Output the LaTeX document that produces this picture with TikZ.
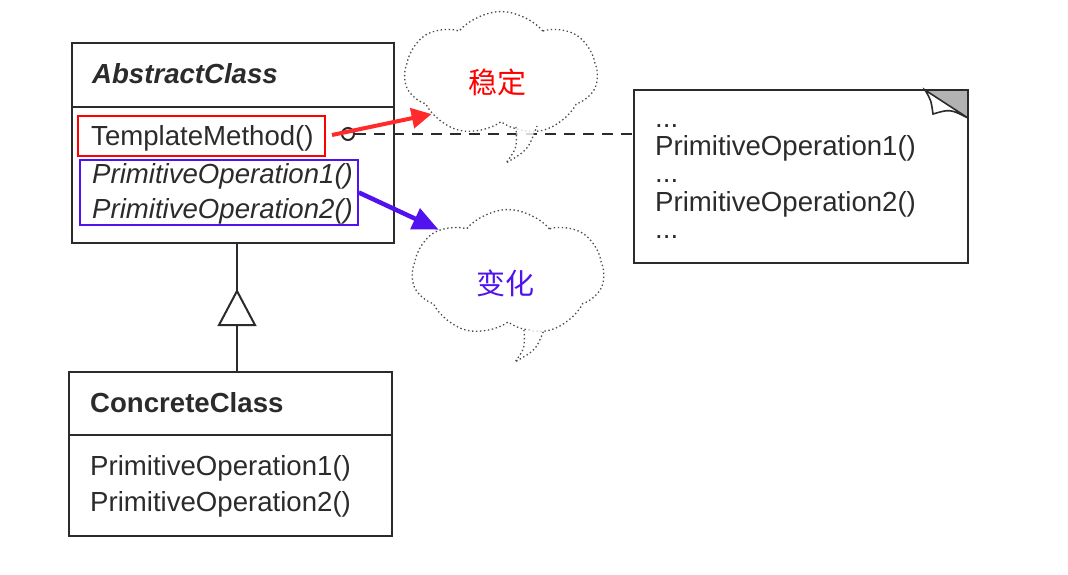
\documentclass[tikz,border=0pt]{standalone}
\usepackage{fontspec}
\setmainfont{Liberation Sans}
\newfontfamily\cjk{Noto Sans CJK SC}
\usetikzlibrary{arrows.meta,shapes.symbols}

\definecolor{ink}{HTML}{2B2B2B}
\definecolor{stablered}{HTML}{FF2A2A}
\definecolor{changeblue}{HTML}{5012EE}

\tikzset{
  umlbox/.style={draw=ink, line width=2pt, inner sep=0pt},
  op/.style={anchor=base west, inner sep=0pt, text=ink,
    font=\fontsize{27.6}{33}\selectfont},
  thoughtline/.style={draw=ink!85, line width=1.3pt, dash pattern=on 1.4pt off 2.6pt},
  thought/.style={cloud, cloud puffs=7, cloud puff arc=100, cloud ignores aspect, thoughtline,
    fill=white, fill opacity=0.8, inner sep=0pt},
  cjklabel/.style={font=\cjk\fontsize{29}{33}\selectfont, inner sep=0pt}
}

\begin{document}
\begin{tikzpicture}[x=1pt, y=-1pt]
    \useasboundingbox (0,0) rectangle (1068,574);

    % AbstractClass
    \node[umlbox, minimum width=322, minimum height=200] (abs) at (233,143) {};
    \draw[ink, line width=2pt] (72,107) -- (394,107);
    \node[op, font=\fontsize{27.6}{33}\selectfont\bfseries\itshape] (absname) at (92,83) {AbstractClass};
    \node[op] (tmpl) at (91,145) {TemplateMethod()};
    \node[op, font=\fontsize{27.6}{33}\selectfont\itshape] (prim1) at (92,183) {PrimitiveOperation1()};
    \node[op, font=\fontsize{27.6}{33}\selectfont\itshape] (prim2) at (92,218) {PrimitiveOperation2()};
    \draw[red, line width=1.6pt] (78,116) rectangle (325,156);
    \node[draw=changeblue, line width=1.6pt, minimum width=278, minimum height=65,
      inner sep=0pt] (varbox) at (219,192.5) {};
    \coordinate (redbox) at (332,135);

    % ConcreteClass
    \node[umlbox, minimum width=323, minimum height=164] (conc) at (230.5,454) {};
    \draw[ink, line width=2pt] (69,435) -- (392,435);
    \node[op, font=\fontsize{27.6}{33}\selectfont\bfseries] (concname) at (90,412) {ConcreteClass};
    \node[op] (cop1) at (90,475) {PrimitiveOperation1()};
    \node[op] (cop2) at (90,511) {PrimitiveOperation2()};

    % inheritance
    \coordinate (apex) at (237,291);
    \coordinate (tribase) at (237,325);
    \draw[ink, line width=2pt] (apex |- abs.south) -- (apex);
    \draw[ink, line width=2pt, line join=miter] (apex) -- ++(18,34) -- ++(-36,0) -- cycle;
    \draw[ink, line width=2pt] (tribase) -- (apex |- conc.north);

    % note
    \fill[gray!60] (925,90) -- (968,90) -- (968,118) -- cycle;
    \filldraw[fill=white, draw=ink, line width=1.6pt] (925,90)
        .. controls (931,100) .. (933,114) .. controls (950,109) .. (968,118) -- cycle;
    \node[umlbox, minimum width=334, minimum height=173] (note) at (801,176.5) {};
    \node[op] (dots1) at (655,127) {...};
    \node[op] (nop1) at (655,155) {PrimitiveOperation1()};
    \node[op] (dots2) at (655,182) {...};
    \node[op] (nop2) at (655,211) {PrimitiveOperation2()};
    \node[op] (dots3) at (655,238) {...};

    \node[circle, draw=ink, line width=2pt, minimum size=12, inner sep=0pt] (knob) at (348,134) {};
    \draw[ink, line width=2.6pt, dash pattern=on 11pt off 8pt] (knob.east) -- (knob.east -| note.west);

    % clouds
    \node[thought, minimum width=193, minimum height=125] (stable) at (501,74) {};
    \fill[white, fill opacity=0.8] (516,127) .. controls (517,148) .. (506,163)
        .. controls (528,150) .. (537,126) -- cycle;
    \draw[thoughtline] (516,127) .. controls (517,148) .. (506,163)
        .. controls (528,150) .. (537,126);
    \node[cjklabel, text=red] (stabletext) at (497,82) {稳定};

    \node[thought, minimum width=192, minimum height=127] (change) at (508,273) {};
    \fill[white, fill opacity=0.8] (524,330) .. controls (525,348) .. (515,362)
        .. controls (536,350) .. (544,330) -- cycle;
    \draw[thoughtline] (524,330) .. controls (525,348) .. (515,362)
        .. controls (536,350) .. (544,330);
    \node[cjklabel, text=changeblue] (changetext) at (505,283) {变化};

    % arrows
    \draw[stablered, line width=4pt, -{Triangle[length=20pt, width=20pt]}] (redbox) -- (stable.210);
    \draw[changeblue, line width=4.5pt, -{Triangle[length=26pt, width=22pt]}] (varbox.east) -- (change.148);
\end{tikzpicture}
\end{document}
